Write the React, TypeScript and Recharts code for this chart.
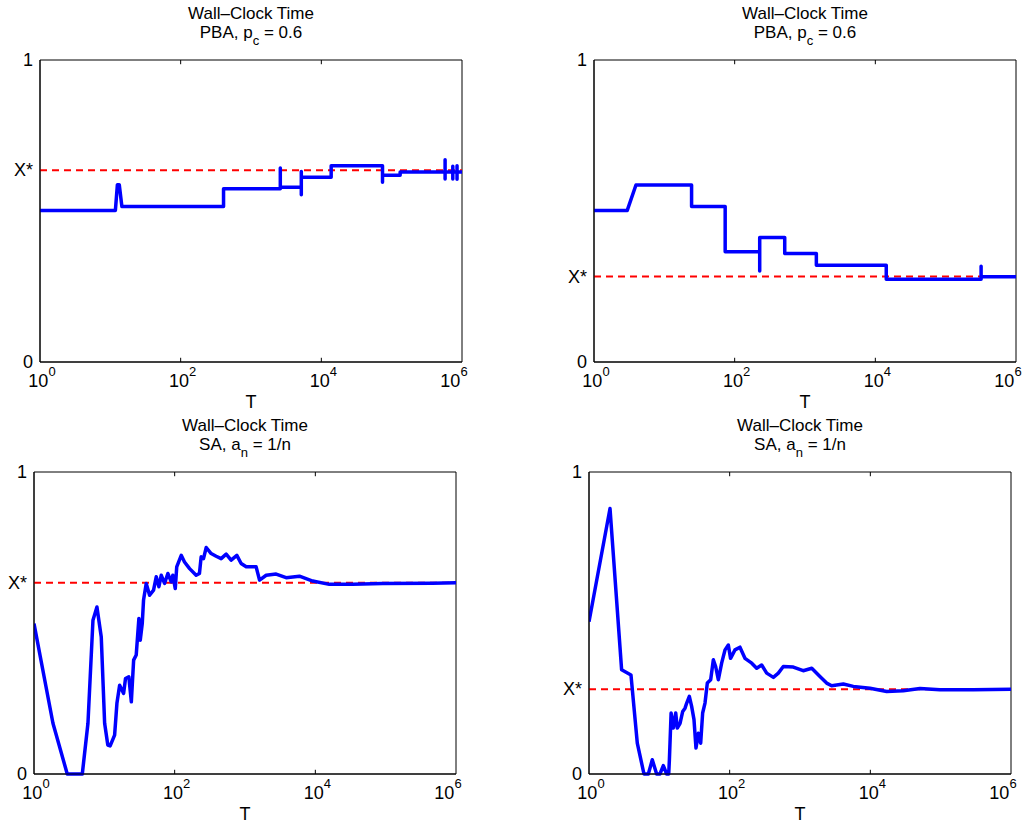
import React from 'react';
import { LineChart, Line, XAxis, YAxis, ReferenceLine, ReferenceArea } from 'recharts';

const FONT = '"Liberation Sans", Arial, Helvetica, sans-serif';

const titleTop = 'Wall\u2013Clock Time';
const xTicks = [1, 100, 10000, 1000000];
const innerTicks = [100, 10000];

// top left: PBA
const pbaLeftT = [
  1, 11.8, 12.6, 13.4, 14.6, 407, 407, 2610, 2610, 2610, 5190, 5190, 5190, 5190,
  13800, 13800, 74100, 74100, 74100, 132000, 132000, 575000, 575000, 575000, 575000,
  740000, 740000, 740000, 740000, 850000, 850000, 850000, 850000, 1000000,
];
const pbaLeftX = [
  0.502, 0.502, 0.587, 0.587, 0.515, 0.515, 0.574, 0.574, 0.642, 0.579, 0.579, 0.631, 0.554, 0.612,
  0.612, 0.65, 0.65, 0.595, 0.618, 0.618, 0.629, 0.629, 0.67, 0.606, 0.629,
  0.629, 0.648, 0.606, 0.629, 0.629, 0.65, 0.605, 0.629, 0.629,
];
const pbaLeftStar = 0.635;

// top right: PBA
const pbaRightT = [
  1, 2.97, 3.95, 24.4, 24.4, 73.3, 73.3, 227, 227, 227, 515, 515, 1450, 1450,
  14300, 14300, 319000, 319000, 319000, 1000000,
];
const pbaRightX = [
  0.502, 0.502, 0.586, 0.586, 0.515, 0.515, 0.365, 0.365, 0.301, 0.412, 0.412, 0.359, 0.359, 0.32,
  0.32, 0.274, 0.274, 0.317, 0.282, 0.282,
];
const pbaRightStar = 0.283;

// bottom left: SA
const saLeftT = [
  1, 1.86, 2.97, 4.86, 5.85, 6.89, 7.85, 9.04, 10.1, 11.2,
  12.1, 14.0, 15.1, 16.5, 18.8, 20.0, 22.3, 24.2, 26.1, 28.4,
  31.0, 32.4, 34.6, 36.1, 39.4, 44.0, 50.1, 54.7, 59.7, 64.4,
  71.8, 80.0, 89.3, 94.2, 102, 107, 124, 138, 163, 202,
  225, 238, 257, 281, 330, 389, 458, 540, 635, 766,
  881, 1040, 1440, 1610, 2000, 2770, 3840, 5940, 9180, 15800,
  34000, 90600, 465000, 1000000,
];
const saLeftX = [
  0.498, 0.168, 0, 0, 0.168, 0.509, 0.553, 0.454, 0.168, 0.096,
  0.093, 0.129, 0.234, 0.294, 0.267, 0.316, 0.322, 0.239, 0.377, 0.394,
  0.515, 0.443, 0.498, 0.576, 0.631, 0.592, 0.609, 0.653, 0.62, 0.658,
  0.631, 0.664, 0.636, 0.658, 0.614, 0.686, 0.724, 0.702, 0.68, 0.658,
  0.664, 0.719, 0.713, 0.75, 0.73, 0.721, 0.713, 0.728, 0.708, 0.724,
  0.697, 0.686, 0.686, 0.642, 0.658, 0.662, 0.65, 0.655, 0.639, 0.628,
  0.628, 0.631, 0.632, 0.633,
];
const saLeftStar = 0.633;

// bottom right: SA
const saRightT = [
  1, 1.99, 2.91, 3.95, 4.86, 6.05, 6.98, 7.94, 9.16, 10.2,
  11.4, 12.7, 13.6, 13.9, 14.7, 15.8, 17.1, 18.0, 19.7, 21.5,
  23.2, 24.5, 26.7, 28.8, 31.1, 33.2, 35.9, 38.7, 41.3, 44.6,
  48.1, 53.7, 58.6, 63.2, 69.0, 76.9, 85.9, 95.7, 103, 119,
  140, 165, 206, 242, 285, 336, 418, 492, 579, 804,
  1110, 1470, 1920, 2390, 2820, 4130, 5730, 9890, 17100, 29400,
  50800, 97700, 291000, 1000000,
];
const saRightX = [
  0.504, 0.879, 0.345, 0.328, 0.102, 0, 0, 0.047, 0, 0,
  0.028, 0, 0, 0.047, 0.202, 0.152, 0.202, 0.152, 0.168, 0.207,
  0.218, 0.235, 0.257, 0.224, 0.18, 0.086, 0.135, 0.102, 0.202, 0.235,
  0.301, 0.312, 0.378, 0.356, 0.312, 0.367, 0.411, 0.427, 0.383, 0.411,
  0.42, 0.383, 0.367, 0.35, 0.361, 0.334, 0.32, 0.334, 0.356, 0.354,
  0.342, 0.35, 0.323, 0.301, 0.292, 0.298, 0.29, 0.284, 0.273, 0.276,
  0.283, 0.279, 0.279, 0.281,
];
const saRightStar = 0.281;

const zip = (t: number[], x: number[]) => t.map((T, i) => ({ T, x: x[i] }));

const PowTick = (props: any) => {
  const { x, y, payload } = props;
  const exp = Math.round(Math.log10(payload.value));
  return (
    <text x={x + 2} y={y + 25} textAnchor="middle" fontSize={18} fill="#000" fontFamily={FONT}>
      10<tspan dy={-11} fontSize={13}>{exp}</tspan>
    </text>
  );
};

const YTick = (props: any) => {
  const { x, y, payload } = props;
  const v = payload.value;
  const label = v === 0 ? '0' : v === 1 ? '1' : 'X*';
  return (
    <text x={x - 7} y={y + 6} textAnchor="end" fontSize={18} fill="#000" fontFamily={FONT}>
      {label}
    </text>
  );
};

const PW = 422;
const PH = 302;
const ML = 45;
const MT = 60;
const MR = 18;
const CW = ML + PW + MR;
const CH = 412;

type PanelProps = {
  left: number;
  top: number;
  head: string;
  sub: string;
  tail: string;
  t: number[];
  x: number[];
  star: number;
};

const Panel = ({ left, top, head, sub, tail, t, x, star }: PanelProps) => {
  const data = zip(t, x);
  const cx = ML + PW / 2;
  return (
    <div style={{ position: 'absolute', left: left - ML, top: top - MT, width: CW, height: CH }}>
      <svg
        width={CW}
        height={CH}
        style={{ position: 'absolute', left: 0, top: 0, overflow: 'visible' }}
        fontFamily={FONT}
      >
        <text x={cx} y={19} textAnchor="middle" fontSize={17} fill="#000">
          {titleTop}
        </text>
        <text x={cx} y={38} textAnchor="middle" fontSize={17} fill="#000">
          {head}
          <tspan dy={7} fontSize={13}>{sub}</tspan>
          <tspan dy={-7}>{tail}</tspan>
        </text>
        <text x={cx} y={MT + PH + 46} textAnchor="middle" fontSize={18} fill="#000">
          T
        </text>
      </svg>
      <div style={{ position: 'absolute', left: 0, top: 0 }}>
        <LineChart width={CW} height={CH} data={data} margin={{ top: MT, right: MR, bottom: 20, left: 0 }}>
          <XAxis
            dataKey="T"
            type="number"
            scale="log"
            domain={[1, 1000000]}
            ticks={xTicks}
            tick={<PowTick />}
            tickSize={0}
            tickMargin={0}
            height={30}
            axisLine={{ stroke: '#000' }}
            allowDataOverflow
          />
          <YAxis
            type="number"
            domain={[0, 1]}
            ticks={[0, star, 1]}
            tick={<YTick />}
            tickSize={0}
            tickMargin={0}
            width={ML}
            axisLine={{ stroke: '#000' }}
          />
          <ReferenceArea x1={1} x2={1000000} y1={0} y2={1} fill="none" fillOpacity={0} stroke="#000" strokeWidth={1} />
          {innerTicks.map((v) => (
            <ReferenceLine key={'b' + v} segment={[{ x: v, y: 0 }, { x: v, y: 0.014 }]} stroke="#000" strokeWidth={1} />
          ))}
          {innerTicks.map((v) => (
            <ReferenceLine key={'t' + v} segment={[{ x: v, y: 0.986 }, { x: v, y: 1 }]} stroke="#000" strokeWidth={1} />
          ))}
          <ReferenceLine y={star} stroke="#ff0000" strokeWidth={2} strokeDasharray="7 5" />
          <Line
            type="linear"
            dataKey="x"
            stroke="#0000ff"
            strokeWidth={3.5}
            strokeLinejoin="round"
            dot={false}
            activeDot={false}
            isAnimationActive={false}
          />
        </LineChart>
      </div>
    </div>
  );
};

export default function App() {
  return (
    <div style={{ position: 'absolute', left: 0, top: 0, width: 1034, height: 822, background: '#fff' }}>
      <Panel left={40} top={60} head="PBA, p" sub="c" tail=" = 0.6" t={pbaLeftT} x={pbaLeftX} star={pbaLeftStar} />
      <Panel left={594} top={60} head="PBA, p" sub="c" tail=" = 0.6" t={pbaRightT} x={pbaRightX} star={pbaRightStar} />
      <Panel left={34} top={472} head="SA, a" sub="n" tail=" = 1/n" t={saLeftT} x={saLeftX} star={saLeftStar} />
      <Panel left={589} top={472} head="SA, a" sub="n" tail=" = 1/n" t={saRightT} x={saRightX} star={saRightStar} />
    </div>
  );
}
